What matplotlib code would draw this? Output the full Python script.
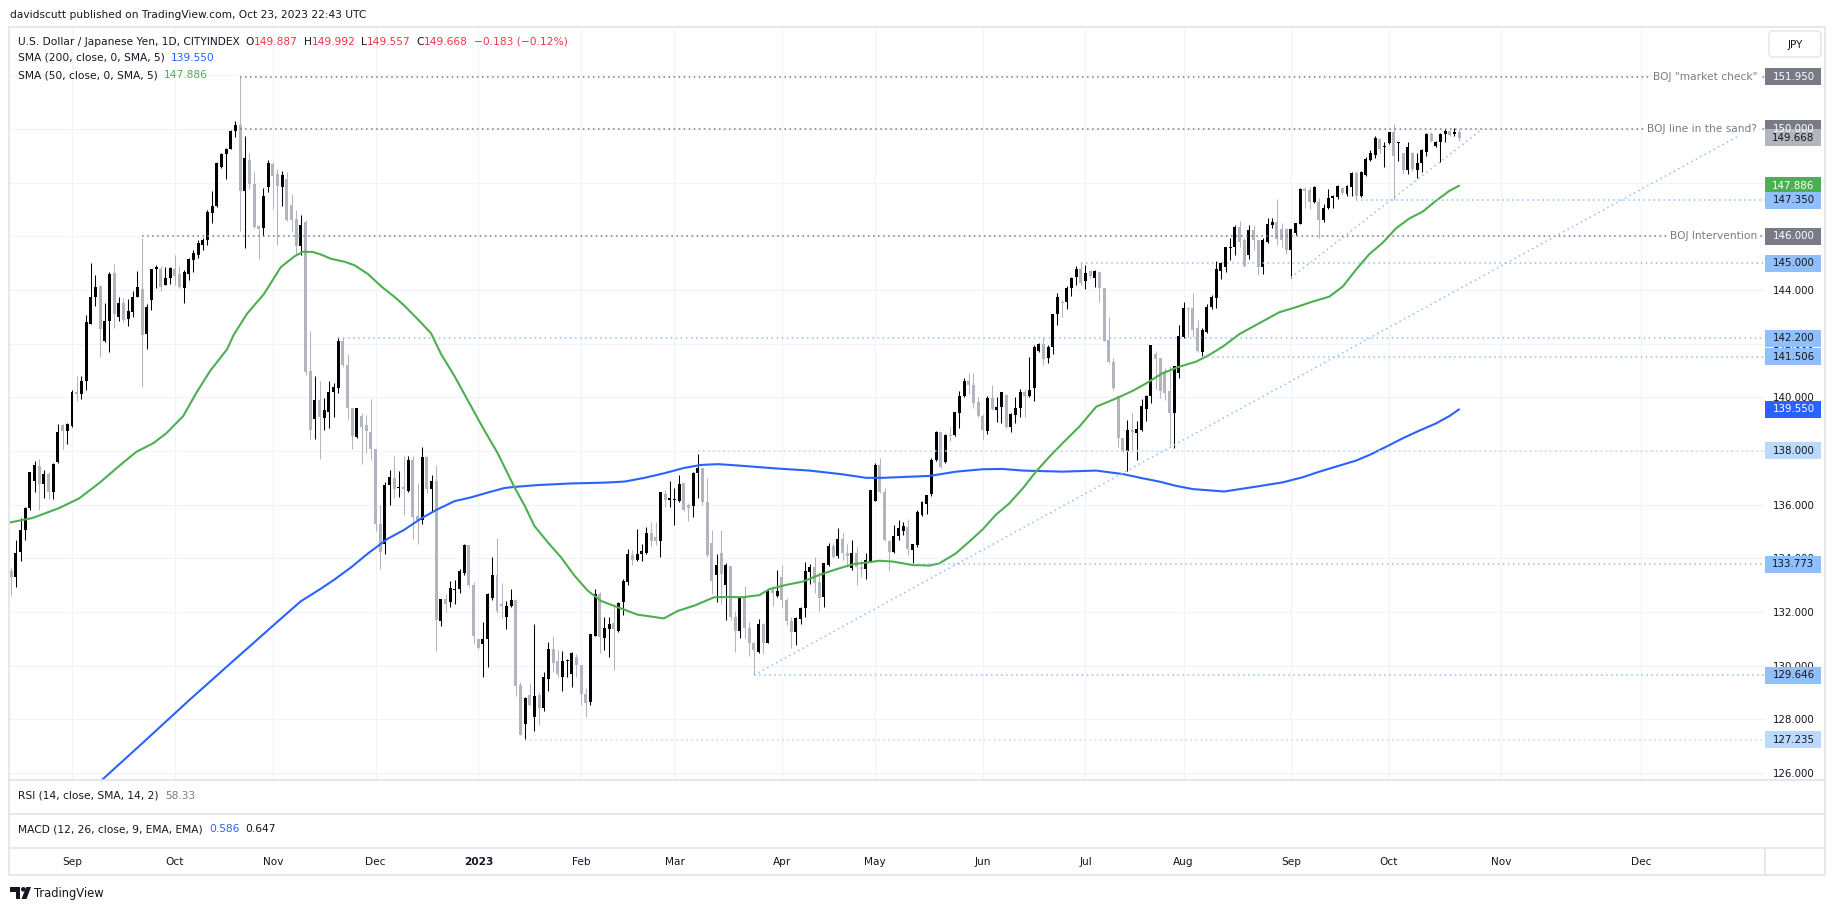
import numpy as np
import pandas as pd
import matplotlib
matplotlib.use("Agg")
import matplotlib.pyplot as plt
from matplotlib.patches import Rectangle, FancyBboxPatch, Polygon, Circle

# ---------------------------------------------------------------- data
# daily candles (open, high, low, close), USD/JPY, first bar 2022-08-15
FIRST_BAR = "2022-08-15"
AUG22 = [(133.51,133.67,132.61,133.31),(133.30,134.67,132.94,134.20),(134.23,135.50,133.90,135.06),
         (135.06,135.93,134.67,135.87),(135.87,137.22,135.80,137.20),(136.87,137.64,136.47,137.49),
         (137.43,137.71,135.80,136.76),(136.77,137.29,136.23,137.13),(137.13,137.20,136.20,136.47),
         (136.47,137.56,136.20,137.53),(137.60,139.00,137.56,138.70),(138.97,139.00,138.07,138.76),
         (138.76,139.06,138.26,139.00)]
SEP22 = [(138.93,140.26,138.90,140.19),(140.19,140.79,139.86,140.13),(140.13,140.79,139.95,140.62),
         (140.59,143.06,140.26,142.79),(142.75,145.01,142.72,143.75),(143.72,144.55,143.39,144.12),
         (144.15,144.19,141.50,142.56),(142.11,143.52,142.06,142.86),(142.83,144.68,141.69,144.59),
         (144.63,144.96,142.59,143.10),(142.99,143.75,142.86,143.52),(143.52,143.70,142.79,142.88),
         (142.90,143.68,142.66,143.22),(143.19,143.95,142.99,143.75),(143.75,144.71,143.72,144.11),
         (144.04,145.92,140.37,142.32),(142.37,143.48,141.79,143.35),(143.62,144.79,143.26,144.79),
         (144.77,144.92,144.06,144.85),(144.80,144.88,143.95,144.11),(144.19,144.85,144.19,144.45),
         (144.45,144.85,144.22,144.81)]
OCT22 = [(144.80,145.29,144.19,144.52),(144.59,144.88,144.06,144.12),(144.09,144.76,143.52,144.68),
         (144.59,145.19,144.39,145.16),(145.12,145.48,144.68,145.39),(145.29,145.85,145.21,145.75),
         (145.69,145.92,145.48,145.85),(145.85,146.99,145.68,146.92),(146.88,147.68,146.49,147.12),
         (147.12,148.76,147.08,148.74),(148.58,149.11,148.54,149.07),(149.05,149.28,148.14,149.26),
         (149.26,149.98,149.24,149.93),(149.91,150.31,149.71,150.14),(150.14,151.95,146.21,147.68),
         (147.68,149.74,145.55,148.91),(148.85,149.09,147.75,147.94),(147.94,148.41,146.32,146.34),
         (146.39,146.41,145.15,146.28),(146.32,147.81,146.01,147.50),(147.82,148.85,147.65,148.74)]
NOV22 = [(148.71,148.78,147.01,148.25),(148.32,148.49,145.68,147.89),(147.82,148.45,147.12,148.29),
         (148.12,148.38,146.56,146.62),(147.18,147.58,146.18,146.62),(146.65,146.98,145.32,145.65),
         (145.65,146.78,145.32,146.42),(146.52,146.60,140.85,140.95),(140.97,142.46,138.46,138.77),
         (139.20,140.79,138.46,139.89),(139.89,140.59,137.69,139.26),(139.22,139.99,138.80,139.53),
         (139.46,140.59,138.86,140.19),(140.19,140.53,139.26,140.37),(140.33,142.26,140.17,142.08),
         (142.08,142.26,141.13,141.19),(141.19,141.63,139.20,139.60),(139.60,139.60,138.07,138.57),
         (138.53,139.62,138.50,139.60),(139.29,139.40,137.53,138.89),(138.97,139.33,137.93,138.73),
         (138.69,139.93,137.66,138.06)]
DEC22 = [(138.06,138.09,135.00,135.28),(135.28,135.97,133.62,134.24),(134.52,136.86,134.15,136.73),
         (136.73,137.28,135.97,137.03),(137.00,137.83,136.24,136.59),(136.62,137.24,136.27,136.66),
         (136.66,137.83,135.62,136.57),(136.52,137.83,136.49,137.66),(137.66,137.83,134.73,135.55),
         (135.58,136.79,134.52,135.42),(135.44,138.15,135.28,137.76),(137.76,137.83,136.45,136.59),
         (136.59,137.11,135.73,136.90),(136.90,137.48,130.56,131.69),(131.67,132.49,131.49,132.49),
         (132.49,132.66,132.01,132.31),(132.38,133.14,132.18,132.89),(132.82,133.21,132.31,132.86),
         (132.86,133.60,132.69,133.51),(133.46,134.52,133.39,134.48),(134.48,134.48,132.93,133.00),
         (133.00,133.10,130.80,131.11)]
JAN23 = [(130.98,131.00,130.62,130.66),(130.80,131.62,129.56,131.00),(131.00,132.70,129.94,132.66),
         (132.52,134.04,132.45,133.37),(133.37,134.75,131.97,132.04),(132.31,133.07,131.76,132.24),
         (131.83,132.42,131.38,132.24),(132.24,132.86,132.18,132.45),(132.45,132.49,128.87,129.25),
         (129.28,129.39,127.40,127.42),(127.81,128.84,127.235,128.80),(128.89,129.35,128.48,128.52),
         (128.08,131.55,127.58,128.87),(128.89,129.03,127.79,128.41),(128.41,129.76,128.32,129.56),
         (129.49,130.87,129.07,130.62),(130.62,131.10,129.76,130.11),(130.18,130.59,129.56,129.69),
         (129.58,130.55,129.05,130.18),(130.18,130.23,129.56,130.22),(129.69,130.52,129.21,130.48),
         (130.34,130.45,129.56,130.04)]
FEB23 = [(130.04,130.04,128.55,128.94),(128.94,129.18,128.08,128.62),(128.63,131.18,128.55,131.17),
         (131.11,132.87,131.11,132.66),(132.66,132.73,130.48,131.05),(131.03,131.83,130.59,131.42),
         (131.35,131.83,130.31,131.55),(131.58,132.29,129.83,131.35),(131.28,132.38,131.25,132.35),
         (132.38,133.24,131.90,133.14),(133.10,134.34,133.00,134.15),(134.11,134.31,133.76,133.93),
         (133.93,135.10,133.90,134.15),(134.15,134.52,133.90,134.29),(134.20,135.18,134.15,134.96),
         (134.96,135.35,134.45,134.66),(134.80,135.37,134.48,134.66),(134.66,136.48,134.06,136.48),
         (136.41,136.55,135.93,136.17),(136.19,136.90,135.90,136.22)]
MAR23 = [(136.17,136.63,135.25,136.21),(136.13,137.11,136.10,136.77),(136.82,136.82,135.76,135.80),
         (135.99,136.08,135.39,135.86),(135.94,137.21,135.55,137.17),(137.17,137.90,136.24,137.35),
         (137.35,137.35,135.97,136.10),(136.10,137.00,134.05,134.11),(134.56,135.07,132.66,133.17),
         (133.39,134.17,132.38,133.76),(134.20,135.07,132.31,133.42),(133.00,133.83,131.69,133.76),
         (133.72,133.72,131.69,131.83),(131.83,132.04,130.52,131.28),(131.28,132.59,131.03,132.55),
         (132.51,132.97,131.02,131.39),(131.39,131.64,130.36,130.83),(130.83,130.90,129.646,130.60),
         (130.52,131.73,130.49,131.54),(131.54,131.60,130.44,130.86),(130.86,132.85,130.83,132.82),
         (132.82,132.95,132.22,132.70),(132.60,133.57,132.57,132.78)]
APR23 = [(133.32,133.75,132.20,132.45),(132.45,132.51,131.51,131.68),(131.68,131.80,130.65,131.27),
         (131.27,131.83,130.77,131.76),(131.73,132.20,131.54,132.16),(132.14,133.88,131.83,133.54),
         (133.50,133.79,133.03,133.66),(133.66,134.04,132.70,133.09),(133.13,133.50,132.05,132.53),
         (132.57,133.84,132.17,133.81),(133.75,134.56,133.71,134.46),(134.46,134.56,134.00,134.06),
         (134.10,135.12,134.03,134.71),(134.71,134.93,133.94,134.21),(134.21,134.53,133.67,134.09),
         (133.63,134.68,133.57,134.21),(134.21,134.44,133.01,133.69),(133.69,133.94,133.32,133.60),
         (133.59,134.19,133.22,133.94),(133.88,136.56,133.87,136.55)]
MAY23 = [(136.15,137.54,136.15,137.48),(137.48,137.75,136.42,136.49),(136.49,136.61,134.65,134.68),
         (134.66,134.68,133.54,134.25),(134.25,135.24,134.21,134.83),(134.83,135.43,134.68,135.12),
         (135.03,135.37,134.87,135.22),(135.18,135.47,134.12,134.34),(134.31,134.53,133.773,134.53),
         (134.50,135.80,134.44,135.74),(135.62,136.15,135.58,136.11),(136.03,136.36,135.65,136.36),
         (136.39,137.75,136.32,137.67),(137.67,138.75,137.64,138.72),(138.72,138.72,137.35,137.39),
         (137.60,138.64,137.57,138.60),(138.60,138.91,138.39,138.57),(138.60,139.47,138.56,139.47),
         (139.43,140.25,138.85,140.05),(140.05,140.71,140.03,140.61),(140.61,140.90,140.13,140.46),
         (140.46,140.92,139.59,139.78),(139.81,140.03,139.26,139.32)]
JUN23 = [(139.32,139.37,138.45,138.78),(138.75,140.05,138.62,139.99),(139.99,140.46,139.53,139.55),
         (139.53,140.03,139.09,139.65),(139.63,140.21,139.03,140.18),(140.09,140.13,138.85,138.91),
         (138.91,139.41,138.72,139.38),(139.34,140.03,139.03,139.59),(139.59,140.31,139.28,140.19),
         (140.19,140.31,139.28,140.06),(140.06,141.52,140.03,140.27),(140.34,141.95,139.88,141.89),
         (141.74,142.01,141.70,141.99),(141.99,142.23,141.21,141.43),(141.45,141.95,141.29,141.86),
         (141.86,143.10,141.62,143.10),(143.10,143.88,142.70,143.73),(143.54,143.63,142.98,143.50),
         (143.54,144.13,143.29,144.06),(144.06,144.50,143.78,144.46),(144.47,144.90,144.19,144.77),
         (144.77,145.06,144.19,144.25)]
JUL23 = [(144.35,144.93,144.03,144.65),(144.69,144.72,144.44,144.52),(144.46,144.75,144.10,144.69),
         (144.66,144.69,143.57,144.06),(144.06,144.06,142.08,142.10),(142.14,142.98,141.27,141.33),
         (141.33,141.45,140.27,140.33),(140.05,140.05,138.16,138.47),(138.47,138.47,137.98,138.01),
         (138.01,139.16,137.27,138.78),(138.78,139.41,138.01,138.72),(138.68,139.12,137.67,138.81),
         (138.78,139.93,138.76,139.68),(139.55,140.09,139.13,140.05),(140.05,141.95,139.78,141.95),
         (141.60,141.74,140.30,141.42),(141.45,141.45,139.96,140.25),(140.90,141.08,139.90,140.17),
         (140.25,141.17,138.22,139.43),(139.43,141.17,138.10,141.17),(140.90,142.70,140.71,142.29)]
AUG23 = [(142.24,143.54,142.20,143.32),(143.32,143.38,142.26,143.28),(143.32,143.88,142.26,142.51),
         (142.57,142.88,141.70,141.73),(141.68,142.57,141.506,142.51),(142.45,143.47,142.41,143.38),
         (143.35,143.81,143.28,143.75),(143.69,145.08,143.32,144.77),(144.72,145.06,144.41,145.02),
         (144.87,145.62,144.68,145.59),(145.58,145.93,145.12,145.62),(145.62,146.42,145.31,146.36),
         (146.36,146.57,145.59,145.80),(145.87,145.93,144.87,144.91),(145.31,146.42,145.15,146.24),
         (146.24,146.42,145.49,145.87),(145.87,145.87,144.56,144.85),(144.87,145.93,144.59,145.87),
         (145.78,146.67,145.74,146.46),(146.42,146.67,146.30,146.52),(146.52,147.38,145.68,145.89),
         (146.26,146.51,145.62,145.87),(146.26,146.30,145.34,145.49)]
SEP23 = [(145.49,146.28,144.46,146.26),(146.14,146.49,146.05,146.49),(146.46,147.79,146.46,147.75),
         (147.75,147.85,147.05,147.67),(147.73,147.85,147.02,147.29),(147.29,147.88,147.23,147.85),
         (147.26,147.42,145.93,146.61),(146.59,147.19,146.55,147.07),(147.05,147.77,147.02,147.44),
         (147.42,147.54,147.05,147.51),(147.46,147.92,147.38,147.88),(147.79,147.83,147.58,147.60),
         (147.58,147.92,147.51,147.88),(147.85,148.41,147.51,148.37),(148.37,148.45,147.35,147.52),
         (147.52,148.45,147.45,148.39),(148.29,148.97,148.25,148.87),(148.85,149.20,148.81,149.10),
         (149.03,149.72,148.91,149.68),(149.62,149.65,149.12,149.24),(149.34,149.53,148.57,149.36)]
OCT23 = [(149.47,149.90,149.43,149.87),(149.87,150.19,147.36,149.01),(149.46,149.53,148.79,149.49),
         (149.12,149.12,148.32,148.47),(148.47,149.53,148.32,149.32),(149.10,149.13,148.45,148.50),
         (148.47,149.10,148.19,148.72),(148.72,149.24,148.41,149.20),(149.16,149.84,148.99,149.82),
         (149.82,149.87,149.53,149.55),(149.37,149.55,149.34,149.53),(149.51,149.84,148.78,149.82),
         (149.82,149.99,149.53,149.94),(149.94,149.97,149.72,149.78),(149.82,150.03,149.72,149.87),
         (149.887,149.992,149.557,149.668)]
MONTHS = [AUG22, SEP22, OCT22, NOV22, DEC22, JAN23, FEB23, MAR23, APR23, MAY23, JUN23, JUL23,
          AUG23, SEP23, OCT23]

# moving averages: bar number counted from 2022-09-01, value
SMA50_AT = [-13.5,-8.5,-2.8,1.5,5.8,10.9,13.8,17.4,20.2,23.8,26.7,29.6,33.2,34.6,37.5,41.1,44.7,47.6,
            49.4,51.5,53.3,55.5,58.4,60.5,63.4,66.3,69.0,71.2,74.7,76.9,79.0,81.9,84.7,88.0,91.2,94.7,
            96.9,99.0,101.9,104.7,107.6,110.4,113.3,116.8,121.1,124.0,126.7,129.7,133.3,137.5,140.4,
            143.6,147.2,149.3,152.9,156.4,160.0,163.6,167.2,170.0,172.9,175.7,180.0,183.6,185.7,189.3,
            192.1,195.0,197.8,200.7,203.6,206.4,209.3,212.1,215.7,219.3,223.6,227.1,230.0,233.5,237.1,
            240.7,243.5,246.4,250.0,254.2,258.5,262.1,265.7,269.2,272.1,274.9,277.8,280.7,283.5,286.4,
            289.2,292.1,294.9,297.0]
SMA50_VAL = [135.33,135.50,135.87,136.23,136.80,137.56,137.97,138.29,138.66,139.30,140.19,140.99,141.79,
             142.32,143.12,143.85,144.85,145.25,145.42,145.42,145.32,145.16,145.05,144.92,144.59,144.12,
             143.75,143.41,142.79,142.38,141.62,140.79,139.90,138.86,137.90,136.66,135.97,135.21,134.59,
             134.04,133.35,132.80,132.41,132.18,131.90,131.83,131.76,132.04,132.24,132.55,132.56,132.55,
             132.63,132.85,133.01,133.13,133.38,133.59,133.78,133.84,133.91,133.88,133.75,133.73,133.81,
             134.19,134.62,135.08,135.62,136.05,136.61,137.23,137.79,138.29,138.91,139.65,139.96,140.24,
             140.52,140.90,141.14,141.33,141.58,141.89,142.36,142.76,143.17,143.36,143.57,143.75,144.13,
             144.75,145.34,145.77,146.30,146.67,146.92,147.33,147.69,147.886]
SMA200_AT = [4.0,6.4,15.0,25.0,35.0,44.4,49.0,53.3,56.2,59.8,63.5,67.6,71.2,74.7,78.3,81.9,85.4,89.0,92.6,
             94.7,99.7,106.9,114.0,118.3,122.6,126.8,131.1,134.7,138.3,142.5,150.7,157.9,165.0,170.0,
             173.6,179.3,183.6,189.3,195.0,199.3,203.6,212.1,219.3,225.0,229.3,232.8,236.4,240.0,246.7,
             253.5,259.2,263.5,267.1,270.7,274.9,277.8,281.4,284.9,288.5,292.1,294.9,297.0]
SMA200_VAL = [125.45,125.74,127.10,128.70,130.25,131.70,132.40,132.87,133.21,133.67,134.20,134.73,135.07,
              135.48,135.83,136.13,136.27,136.45,136.62,136.66,136.73,136.79,136.82,136.86,137.00,137.17,
              137.37,137.48,137.51,137.46,137.35,137.27,137.13,137.00,137.00,137.04,137.07,137.23,137.32,
              137.33,137.27,137.23,137.27,137.14,136.98,136.86,136.70,136.58,136.49,136.67,136.83,137.02,
              137.23,137.42,137.64,137.85,138.16,138.47,138.76,139.03,139.30,139.550]

# horizontal rays: price, start date, style, note
LEVEL_PRICE = [151.95, 150.0, 146.0, 147.35, 145.0, 142.2, 141.506, 138.0, 133.773, 129.646, 127.235]
LEVEL_START = ["2022-10-21", "2022-10-21", "2022-09-22", "2023-09-21", "2023-06-30", "2022-11-21",
               "2023-08-07", "2023-03-08", "2023-05-11", "2023-03-24", "2023-01-16"]
LEVEL_KIND = ["grey", "grey", "grey", "blue", "blue", "blue", "blue", "pale", "blue", "blue", "pale"]
LEVEL_NOTE = ['BOJ "market check"', "BOJ line in the sand?", "BOJ Intervention"] + [""] * 8

# trend lines: (bar from 2022-09-01, price) pairs
TREND_A = [(146.0, 129.646), (357.8, 149.83)]
TREND_B = [(261.0, 144.46), (302.0, 150.00)]

# price scale badges
BADGE_PRICE = [151.95, 150.0, 149.668, 147.886, 147.35, 146.0, 145.0, 142.2, 141.506, 139.55, 138.0,
               133.773, 129.646, 127.235]
BADGE_KIND = ["grey", "grey", "last", "sma50", "blue", "grey", "blue", "blue", "blue", "sma200", "pale",
              "blue", "blue", "pale"]

Y_TICKS = list(range(126, 153, 2))

# ---------------------------------------------------------------- styling
DARK = "#131722"
GREY_TXT = "#787b86"
RED = "#f23645"
BLUE = "#2962ff"
GREEN = "#4caf50"
DOWN = "#b2b5be"
UP = "#000000"
LINE_BLUE = "#90bff9"
LINE_PALE = "#bbd9fb"
FRAME = "#e0e3eb"
GRID = "#f0f3fa"
KIND_LINE = {"grey": GREY_TXT, "blue": LINE_BLUE, "pale": LINE_PALE}
BADGE_STYLE = {"grey": (GREY_TXT, "white"), "blue": (LINE_BLUE, DARK), "pale": (LINE_PALE, DARK),
               "last": (DOWN, DARK), "sma50": (GREEN, "white"), "sma200": (BLUE, "white")}

W, H, DPI = 1835, 911, 100
PL, PR, PT, PB = 9, 1765, 27, 780          # price pane in pixels
FR_R, FR_B = 1825, 875                     # outer frame

rows = [r for m in MONTHS for r in m]
o = np.array([r[0] for r in rows]); hi = np.array([r[1] for r in rows])
lo = np.array([r[2] for r in rows]); c = np.array([r[3] for r in rows])
n = len(rows)
dates = pd.bdate_range(FIRST_BAR, periods=n)
pos = np.arange(n)
sep1 = int(np.where(dates == pd.Timestamp("2022-09-01"))[0][0])

def bar_of(d):
    return int(np.where(dates == pd.Timestamp(d))[0][0])

fig = plt.figure(figsize=(W / DPI, H / DPI), dpi=DPI)
fig.patch.set_facecolor("white")
ax = fig.add_axes([PL / W, 1 - PB / H, (PR - PL) / W, (PB - PT) / H])
ax.set_facecolor("white")
XMIN, XMAX = sep1 - 13.49, sep1 + 362.5
ax.set_xlim(XMIN, XMAX)
ax.set_ylim(125.739, 153.80)
for s in ax.spines.values():
    s.set_visible(False)

# month ticks (future months spaced in calendar days)
month_pos, month_lab = [], []
last = dates[-1]
for m in pd.date_range("2022-09-01", "2023-12-01", freq="MS"):
    inside = np.where((dates.year == m.year) & (dates.month == m.month))[0]
    p = inside[0] if len(inside) else (n - 1) + (m - last).days
    month_pos.append(p)
    month_lab.append(str(m.year) if m.month == 1 else m.strftime("%b"))
ax.set_xticks(month_pos)
ax.set_xticklabels([])
ax.set_yticks(Y_TICKS)
ax.set_yticklabels([f"{v:.3f}" for v in Y_TICKS])
ax.yaxis.tick_right()
ax.tick_params(axis="both", length=0)
ax.tick_params(axis="y", pad=5.8, labelsize=7.4, labelcolor=DARK)
ax.grid(True, color=GRID, linewidth=0.75)
ax.set_axisbelow(True)

# candles
up = c >= o
col = np.where(up, UP, DOWN)
ax.vlines(pos, lo, hi, colors=col, linewidth=0.75, zorder=2)
body_lo = np.minimum(o, c)
body_h = np.maximum(np.abs(c - o), 0.04)
ax.bar(pos, body_h, bottom=body_lo, width=0.64, color=col, linewidth=0, zorder=3)

# moving averages
ax.plot(np.array(SMA200_AT) + sep1, SMA200_VAL, color=BLUE, lw=1.5, zorder=4, solid_capstyle="round")
ax.plot(np.array(SMA50_AT) + sep1, SMA50_VAL, color=GREEN, lw=1.5, zorder=4, solid_capstyle="round")

DOT = (0, (1, 2.3))
for p, d, k in zip(LEVEL_PRICE, LEVEL_START, LEVEL_KIND):
    ax.plot([bar_of(d), XMAX], [p, p], color=KIND_LINE[k], lw=1.1, linestyle=DOT, zorder=5)
for tr in (TREND_A, TREND_B):
    ax.plot([tr[0][0] + sep1, tr[1][0] + sep1], [tr[0][1], tr[1][1]], color=LINE_BLUE, lw=1.1,
            linestyle=DOT, zorder=5)

# ---------------------------------------------------------------- overlay in pixels
ov = fig.add_axes([0, 0, 1, 1], zorder=10)
ov.set_xlim(0, W); ov.set_ylim(H, 0); ov.axis("off")
ov.patch.set_alpha(0)
R = fig.canvas.get_renderer()

def ypx(price):
    return H - ax.transData.transform((0, price))[1]

def xpx(p):
    return ax.transData.transform((p, 0))[0]

def run(x0, y, pieces, size, target=None, weight="normal"):
    def lay(sz):
        arts, x = [], x0
        for s, colr, gap in pieces:
            x += gap * sz * DPI / 72.0
            t = ov.text(x, y, s, color=colr, fontsize=sz, ha="left", va="center", fontweight=weight)
            arts.append(t)
            x += t.get_window_extent(renderer=R).width
        return arts, x - x0
    arts, w = lay(size)
    if target:
        for a in arts:
            a.remove()
        size = size * target / w
        arts, w = lay(size)
    return size

# frame and pane separators
ov.add_patch(Rectangle((PL, PT), FR_R - PL, FR_B - PT, fill=False, edgecolor=FRAME, lw=1.2))
for yy in (PB, 814, 848):
    ov.plot([PL, FR_R], [yy, yy], color=FRAME, lw=1.2)
ov.plot([PR, PR], [848, FR_B], color=FRAME, lw=1.2)

# header and legends
run(10, 15, [("davidscutt published on TradingView.com, Oct 23, 2023 22:43 UTC", DARK, 0)], 9, target=356)
fs = run(18, 42, [("U.S. Dollar / Japanese Yen, 1D, CITYINDEX", DARK, 0), ("O", DARK, 0.55),
                  ("149.887", RED, 0), ("H", DARK, 0.55), ("149.992", RED, 0), ("L", DARK, 0.55),
                  ("149.557", RED, 0), ("C", DARK, 0.55), ("149.668", RED, 0),
                  ("\u22120.183 (\u22120.12%)", RED, 0.55)], 9, target=547)
run(18, 58, [("SMA (200, close, 0, SMA, 5)", DARK, 0), ("139.550", BLUE, 0.6)], fs)
run(18, 75, [("SMA (50, close, 0, SMA, 5)", DARK, 0), ("147.886", GREEN, 0.6)], fs)
run(18, 796, [("RSI (14, close, SMA, 14, 2)", DARK, 0), ("58.33", GREY_TXT, 0.6)], fs)
run(18, 829, [("MACD (12, 26, close, 9, EMA, EMA)", DARK, 0), ("0.586", BLUE, 0.6),
              ("0.647", DARK, 0.6)], fs)

# level notes
for p, note in zip(LEVEL_PRICE, LEVEL_NOTE):
    if note:
        ov.text(1757, ypx(p), note, color=GREY_TXT, fontsize=fs, ha="right", va="center",
                bbox=dict(boxstyle="square,pad=0.15", facecolor="white", edgecolor="none"))

# price badges
for p, k in zip(BADGE_PRICE, BADGE_KIND):
    fc, tc = BADGE_STYLE[k]
    yc = ypx(p)
    ov.add_patch(Rectangle((1765, yc - 8.5), 56, 17, facecolor=fc, edgecolor="none", zorder=5))
    ov.text(1793.5, yc, f"{p:.3f}", color=tc, fontsize=7.4, ha="center", va="center", zorder=6)

# currency button
ov.add_patch(FancyBboxPatch((1769, 31), 52, 26, boxstyle="round,pad=0,rounding_size=4",
                            facecolor="white", edgecolor=FRAME, lw=1))
ov.text(1795, 44.5, "JPY", color=DARK, fontsize=7.6, ha="center", va="center")

# time axis labels
for p, lab in zip(month_pos, month_lab):
    ov.text(xpx(p), 862, lab, color=DARK, fontsize=7.6, ha="center", va="center",
            fontweight="bold" if lab.isdigit() else "normal")

# TradingView mark
ov.add_patch(Polygon([(10, 887), (20, 887), (20, 899), (15.5, 899), (15.5, 891.5), (10, 891.5)],
                     closed=True, facecolor=DARK, edgecolor="none"))
ov.add_patch(Circle((23.3, 889.3), 2.3, facecolor=DARK, edgecolor="none"))
ov.add_patch(Polygon([(21.5, 899), (26.5, 899), (31, 887), (26.2, 887)], closed=True,
                     facecolor=DARK, edgecolor="none"))
run(34, 893, [("TradingView", DARK, 0)], 9, target=70)

fig.savefig("out.png", dpi=DPI, facecolor="white")
